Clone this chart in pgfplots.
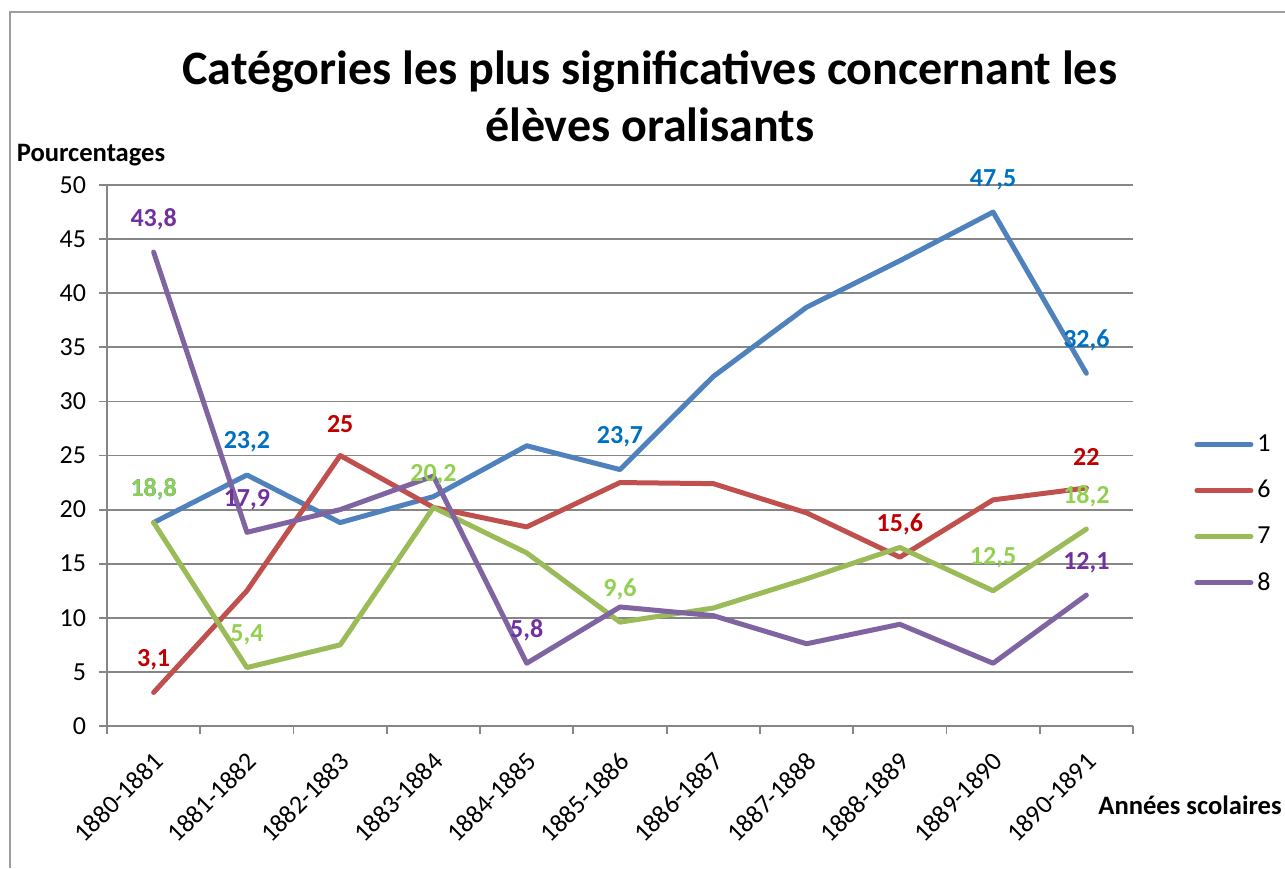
\documentclass[border=0pt]{standalone}
\usepackage{pgfplots}
\pgfplotsset{compat=1.18}
\usepackage{fontspec}
\setmainfont{Carlito}

\definecolor{lnBlue}{HTML}{4F81BD}
\definecolor{lnRed}{HTML}{C0504D}
\definecolor{lnGreen}{HTML}{9BBB59}
\definecolor{lnPurple}{HTML}{8064A2}
\definecolor{lbBlue}{HTML}{0070C0}
\definecolor{lbRed}{HTML}{C00000}
\definecolor{lbGreen}{HTML}{92D050}
\definecolor{lbPurple}{HTML}{7030A0}
\definecolor{axgray}{HTML}{868686}

\pgfplotsset{
  vlabel/.style={draw=none, forget plot,
    nodes near coords={\pgfmathprintnumber[use comma, fixed, precision=1]{\pgfplotspointmeta}},
    point meta=y,
    every node near coord/.append style={anchor=south, yshift=9pt, inner sep=1pt,
      font=\bfseries\fontsize{13}{14}\selectfont, text=#1}},
}

\begin{document}
\begin{tikzpicture}
\useasboundingbox (0,0) rectangle (642.5pt,434pt);
\draw[axgray!80, line width=0.75pt] (5pt,0pt) -- (5pt,428pt) -- (642.5pt,428pt);
\begin{axis}[
    at={(53.5pt,71pt)}, anchor=south west,
    scale only axis, width=513pt, height=270.5pt,
    xmin=-0.5, xmax=10.5, ymin=0, ymax=50,
    xtick={-0.5,0.5,...,10.5},
    x tick label as interval,
    xticklabels={1880-1881,1881-1882,1882-1883,1883-1884,1884-1885,1885-1886,
                 1886-1887,1887-1888,1888-1889,1889-1890,1890-1891},
    ytick={0,5,...,50},
    axis lines=left,
    axis line style={-, draw=axgray, line width=0.9pt},
    ymajorgrids, grid style={draw=axgray, line width=0.9pt},
    tick align=outside, major tick length=4pt,
    tick style={draw=axgray, line width=0.9pt},
    /pgf/number format/assume math mode=true,
    yticklabel style={font=\fontsize{13}{15}\selectfont, xshift=-3pt},
    xticklabel style={font=\fontsize{13}{15}\selectfont, rotate=45, anchor=east,
                      xshift=-3pt, yshift=-10pt},
    title={Catégories les plus significatives concernant les\\élèves oralisants},
    title style={at={(axis description cs:0.529,1.1423)}, anchor=center, align=center,
                 font=\bfseries\fontsize{24}{28.5}\selectfont},
    ylabel={Pourcentages},
    ylabel style={rotate=-90, at={(axis description cs:-0.0156,1.0555)}, anchor=center,
                  font=\bfseries\fontsize{13.3}{15}\selectfont},
    xlabel={Années scolaires},
    xlabel style={at={(axis description cs:1.0556,-0.146)}, anchor=center,
                  font=\bfseries\fontsize{13.3}{15}\selectfont},
    legend style={draw=none, fill=none, at={(axis description cs:1.0536,0.392)}, anchor=west,
                  font=\fontsize{13}{15}\selectfont, row sep=9pt},
    legend cell align=left,
    legend image code/.code={\draw[#1, line width=2.5pt, line cap=round] (0pt,0pt) -- (27pt,0pt);},
    every axis plot/.append style={line width=2.5pt, line cap=round, line join=round},
]
\addplot[lnBlue] coordinates {(0,18.8) (1,23.2) (2,18.8) (3,21.2) (4,25.9) (5,23.7) (6,32.3) (7,38.7) (8,43.0) (9,47.5) (10,32.6)};
\addplot[lnRed] coordinates {(0,3.1) (1,12.5) (2,25) (3,20.2) (4,18.4) (5,22.5) (6,22.4) (7,19.7) (8,15.6) (9,20.9) (10,22)};
\addplot[lnGreen] coordinates {(0,18.8) (1,5.4) (2,7.5) (3,20.2) (4,16.0) (5,9.6) (6,10.9) (7,13.6) (8,16.5) (9,12.5) (10,18.2)};
\addplot[lnPurple] coordinates {(0,43.8) (1,17.9) (2,20.0) (3,23.1) (4,5.8) (5,11.0) (6,10.2) (7,7.6) (8,9.4) (9,5.8) (10,12.1)};
\legend{1,6,7,8}
% data labels
\addplot[vlabel=lbBlue] coordinates {(0,18.8) (1,23.2) (5,23.7) (9,47.5) (10,32.6)};
\addplot[vlabel=lbRed] coordinates {(0,3.1) (2,25) (8,15.6) (10,22)};
\addplot[vlabel=lbPurple] coordinates {(0,43.8) (1,17.9) (4,5.8) (10,12.1)};
\addplot[vlabel=lbGreen] coordinates {(0,18.8) (1,5.4) (3,20.2) (5,9.6) (9,12.5) (10,18.2)};
\end{axis}
\end{tikzpicture}
\end{document}
